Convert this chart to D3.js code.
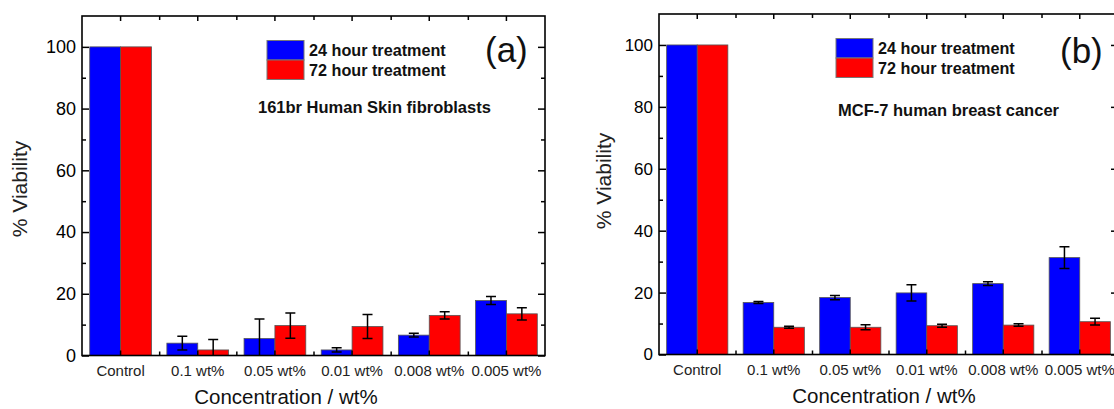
<!DOCTYPE html>
<html>
<head>
<meta charset="utf-8">
<script src="https://cdn.jsdelivr.net/npm/d3@7"></script>
<style>
  body { margin: 0; background: #fff; }
  svg { display: block; font-family: "Liberation Sans", Arial, sans-serif; }
</style>
</head>
<body>
<svg width="1114" height="409"></svg>
<script>
// categories and series
const categories = ["Control", "0.1 wt%", "0.05 wt%", "0.01 wt%", "0.008 wt%", "0.005 wt%"]
const seriesNames = ["24 hour treatment", "72 hour treatment"]
const seriesColors = ["#0000ff", "#ff0000"]
const yTicks = [0, 20, 40, 60, 80, 100]
const yMinor = [10, 30, 50, 70, 90]

// (a) 161br fibroblasts
const fibro24 = [100, 4.0, 5.5, 1.8, 6.6, 17.8]
const fibro24Err = [0, 2.2, 6.3, 0.7, 0.6, 1.3]
const fibro72 = [100, 1.8, 9.7, 9.4, 13.0, 13.5]
const fibro72Err = [0, 3.4, 4.1, 3.9, 1.2, 2.0]

// (b) MCF-7
const mcf24 = [100, 16.8, 18.4, 19.9, 22.9, 31.3]
const mcf24Err = [0, 0.3, 0.7, 2.6, 0.6, 3.5]
const mcf72 = [100, 8.8, 8.8, 9.3, 9.5, 10.6]
const mcf72Err = [0, 0.3, 0.8, 0.5, 0.4, 1.1]

const svg = d3.select("svg")

const panels = [
  { id: "a", vals: [fibro24, fibro72], errs: [fibro24Err, fibro72Err],
    note: "161br Human Skin fibroblasts",
    left: 82, right: 545, top: 16, bottom: 355.5, tickFont: 18,
    yTitleX: 27, yTitleY: 189, xTitleX: 286, xTitleY: 404,
    legX: 267, legY: 40.5, noteX: 258, noteY: 113, tagX: 485, tagY: 62 },
  { id: "b", vals: [mcf24, mcf72], errs: [mcf24Err, mcf72Err],
    note: "MCF-7 human breast cancer",
    left: 659, right: 1118, top: 14, bottom: 354.5, tickFont: 17,
    yTitleX: 611, yTitleY: 181, xTitleX: 884, xTitleY: 403,
    legX: 836, legY: 38.5, noteX: 838, noteY: 116, tagX: 1060, tagY: 63 }
]

panels.forEach(drawPanel)

function drawPanel(p) {
  const g = svg.append("g")

  const x = d3.scaleBand().domain(categories)
    .range([p.left, p.right]).paddingInner(0.2).paddingOuter(0.1)
  const xs = d3.scaleBand().domain([0, 1]).range([0, x.bandwidth()])
  const xi = d3.scaleLinear().domain([0, categories.length]).range([p.left, p.right])
  const y = d3.scaleLinear().domain([0, 110]).range([p.bottom, p.top])

  g.append("clipPath").attr("id", "clip-" + p.id)
    .append("rect")
    .attr("x", p.left).attr("y", p.top)
    .attr("width", p.right - p.left).attr("height", p.bottom - p.top)

  const plot = g.append("g").attr("clip-path", "url(#clip-" + p.id + ")")

  p.vals.forEach(function(vals, i) {
    const rows = categories.map((c, j) => ({ c: c, v: vals[j], e: p.errs[i][j] }))

    plot.selectAll(null)
      .data(rows)
      .enter()
      .append("rect")
      .attr("x", d => x(d.c) + xs(i))
      .attr("y", d => y(d.v))
      .attr("width", xs.bandwidth())
      .attr("height", d => y(0) - y(d.v))
      .attr("fill", seriesColors[i])
      .attr("stroke", "#555")
      .attr("stroke-width", 0.8)

    const err = plot.selectAll(null)
      .data(rows.filter(d => d.e > 0))
      .enter()
      .append("g")
      .attr("stroke", "#000")
      .attr("stroke-width", 1.5)
    const cx = d => x(d.c) + xs(i) + xs.bandwidth() / 2
    err.append("line")
      .attr("x1", cx).attr("x2", cx)
      .attr("y1", d => y(d.v + d.e)).attr("y2", d => y(d.v - d.e))
    err.append("line")
      .attr("x1", d => cx(d) - 5).attr("x2", d => cx(d) + 5)
      .attr("y1", d => y(d.v + d.e)).attr("y2", d => y(d.v + d.e))
    err.append("line")
      .attr("x1", d => cx(d) - 5).attr("x2", d => cx(d) + 5)
      .attr("y1", d => y(d.v - d.e)).attr("y2", d => y(d.v - d.e))
  })

  // axes, ticks inside the frame
  const axes = g.append("g")
  axes.append("g").attr("transform", "translate(" + p.left + ",0)")
    .call(d3.axisLeft(y).tickValues(yTicks).tickSizeInner(-7).tickSizeOuter(0).tickPadding(6))
    .call(a => a.selectAll("text").attr("font-size", p.tickFont))
  axes.append("g").attr("transform", "translate(" + p.left + ",0)")
    .call(d3.axisLeft(y).tickValues(yMinor).tickSize(-4).tickFormat(""))
  axes.append("g").attr("transform", "translate(" + p.right + ",0)")
    .call(d3.axisRight(y).tickValues(yTicks).tickSize(-7).tickFormat(""))
  axes.append("g").attr("transform", "translate(" + p.right + ",0)")
    .call(d3.axisRight(y).tickValues(yMinor).tickSize(-4).tickFormat(""))

  axes.append("g").attr("transform", "translate(0," + p.bottom + ")")
    .call(d3.axisBottom(x).tickSizeInner(-5).tickSizeOuter(0).tickPadding(10))
    .call(a => a.selectAll("text").attr("font-size", 15).attr("fill", "#222"))
  axes.append("g").attr("transform", "translate(0," + p.bottom + ")")
    .call(d3.axisBottom(xi).tickValues(d3.range(1, categories.length)).tickSize(-4).tickFormat(""))
  axes.append("g").attr("transform", "translate(0," + p.top + ")")
    .call(d3.axisTop(x).tickSize(-5).tickFormat(""))
  axes.append("g").attr("transform", "translate(0," + p.top + ")")
    .call(d3.axisTop(xi).tickValues(d3.range(1, categories.length)).tickSize(-4).tickFormat(""))

  axes.selectAll(".domain").remove()
  axes.selectAll(".tick line").attr("stroke-width", 1.5)
  axes.selectAll(".tick text").attr("font-family", "Liberation Sans, Arial, sans-serif")

  g.append("rect")
    .attr("x", p.left).attr("y", p.top)
    .attr("width", p.right - p.left).attr("height", p.bottom - p.top)
    .attr("fill", "none").attr("stroke", "#000").attr("stroke-width", 1.6)

  // axis titles
  g.append("text")
    .attr("transform", "translate(" + p.yTitleX + "," + p.yTitleY + ") rotate(-90)")
    .attr("text-anchor", "middle").attr("font-size", 21).attr("fill", "#222")
    .text("% Viability")
  g.append("text")
    .attr("x", p.xTitleX).attr("y", p.xTitleY)
    .attr("text-anchor", "middle").attr("font-size", 20.5).attr("fill", "#111")
    .text("Concentration / wt%")

  // legend
  const leg = g.append("g")
  seriesNames.forEach(function(name, i) {
    leg.append("rect")
      .attr("x", p.legX).attr("y", p.legY + i * 19.5)
      .attr("width", 37).attr("height", 19.5)
      .attr("fill", seriesColors[i]).attr("stroke", "#777").attr("stroke-width", 1)
    leg.append("text")
      .attr("x", p.legX + 42).attr("y", p.legY + i * 20.5 + 15)
      .attr("font-size", 16.2).attr("font-weight", "bold").attr("fill", "#111")
      .text(name)
  })

  g.append("text")
    .attr("x", p.noteX).attr("y", p.noteY)
    .attr("font-size", 16.5).attr("font-weight", "bold").attr("fill", "#111")
    .text(p.note)

  g.append("text")
    .attr("x", p.tagX).attr("y", p.tagY)
    .attr("font-size", 35).attr("fill", "#111")
    .text("(" + p.id + ")")
}
</script>
</body>
</html>
